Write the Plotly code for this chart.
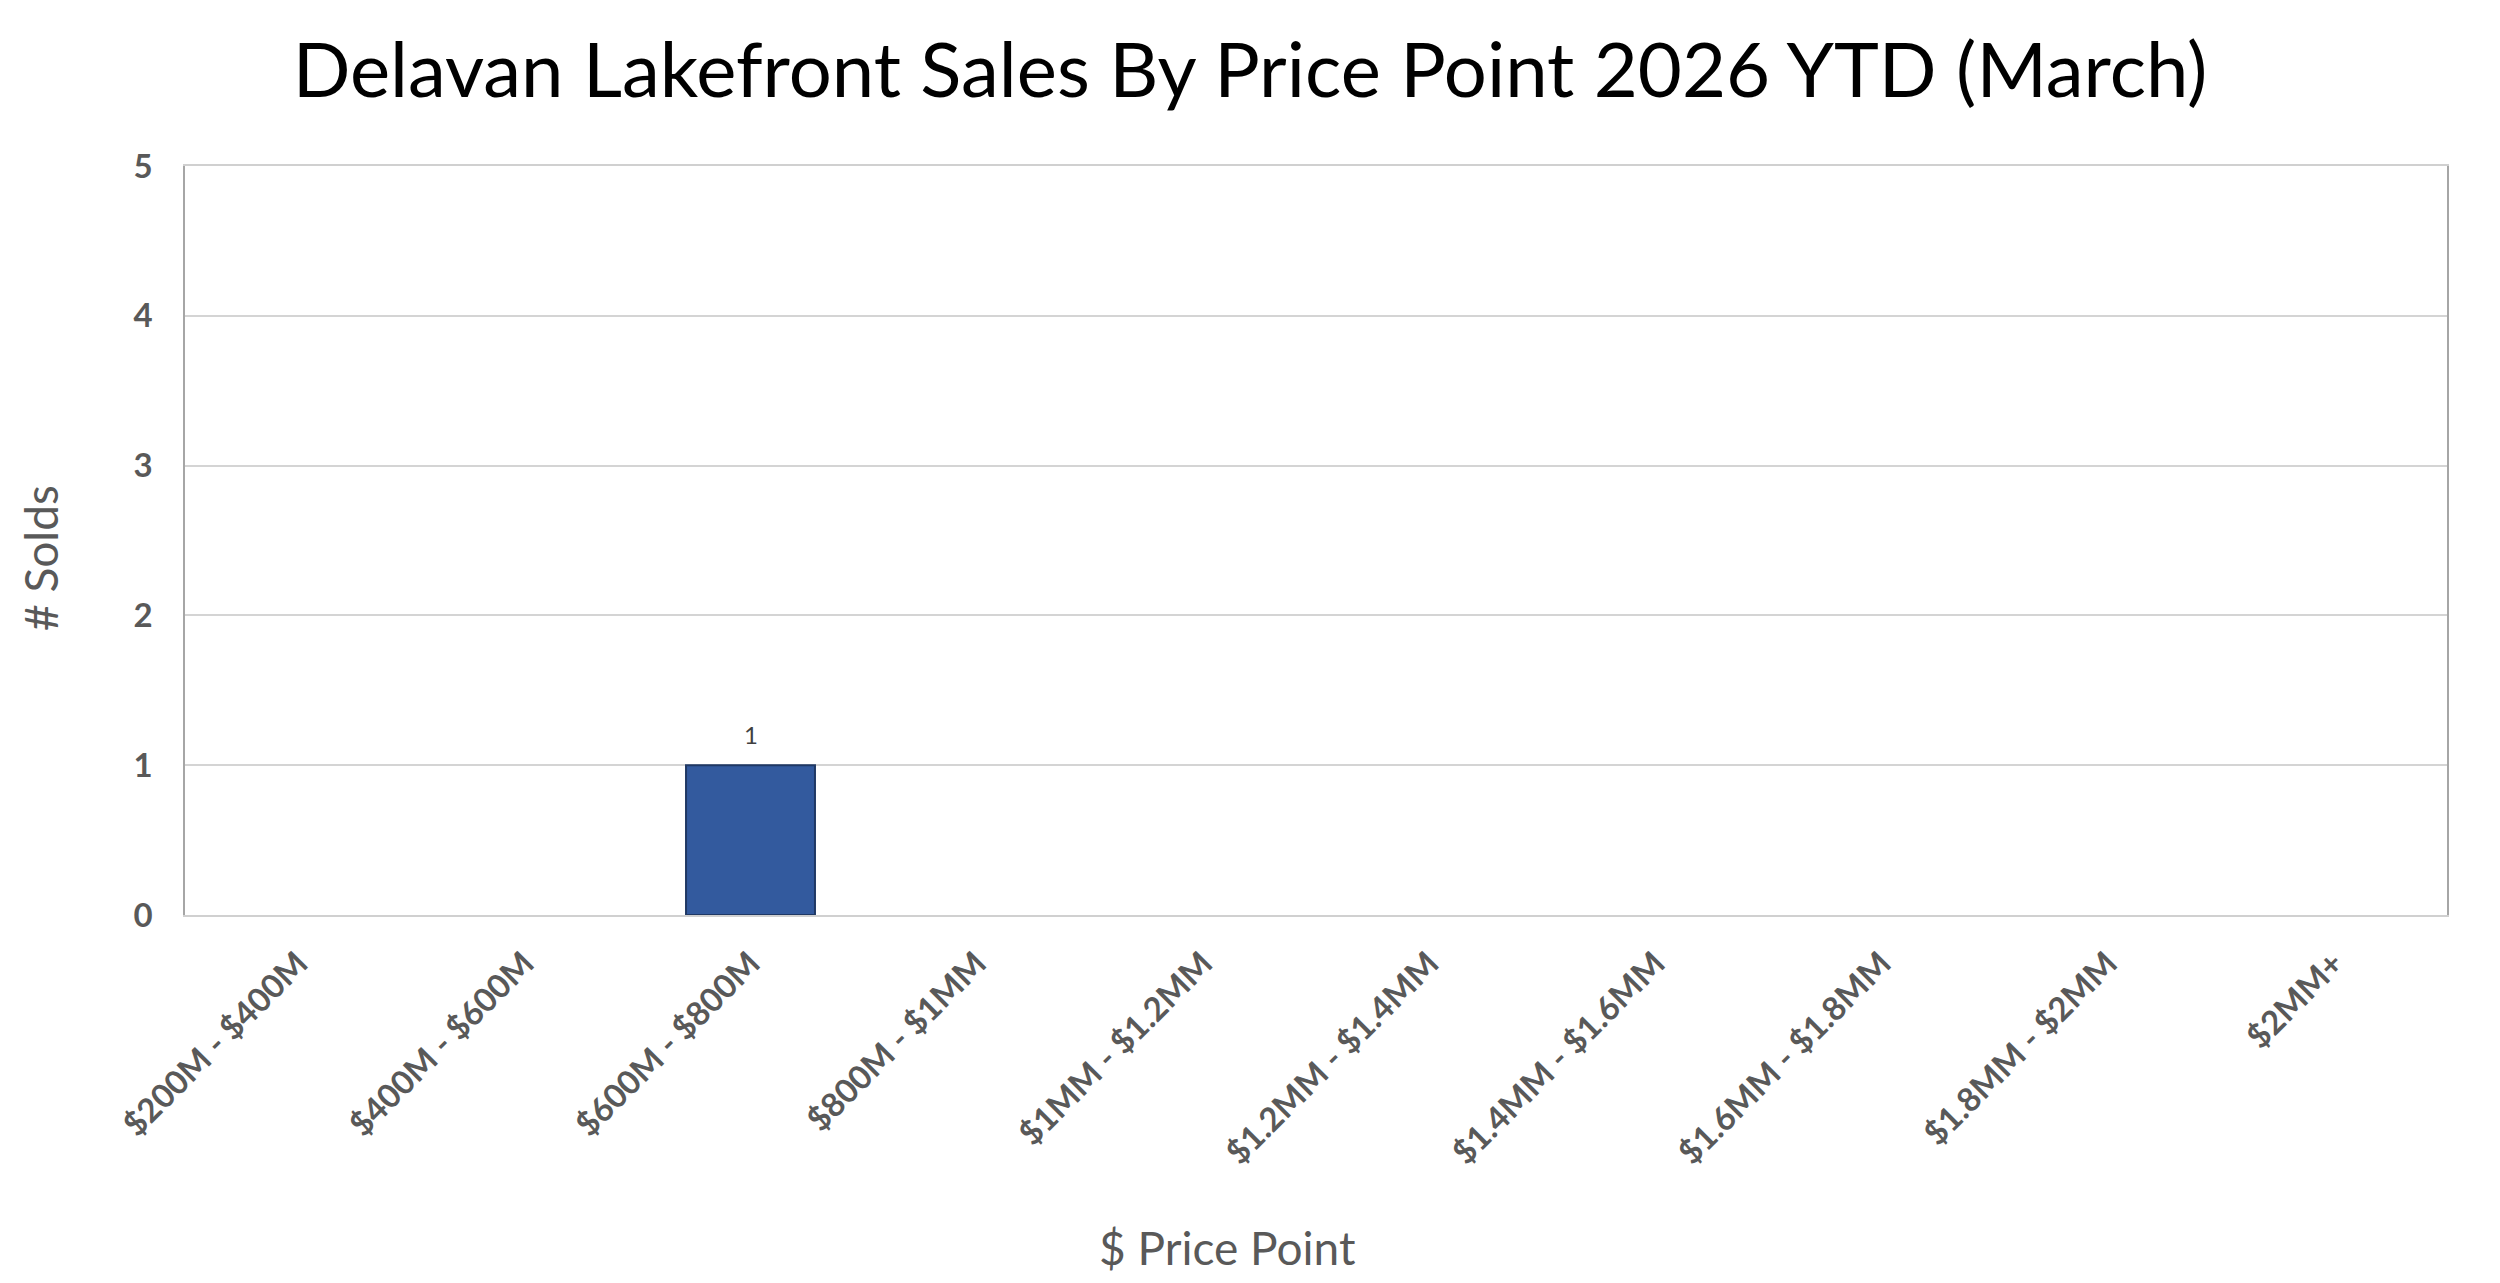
import plotly.graph_objects as go

categories = ["$200M - $400M", "$400M - $600M", "$600M - $800M", "$800M - $1MM",
              "$1MM - $1.2MM", "$1.2MM - $1.4MM", "$1.4MM - $1.6MM", "$1.6MM - $1.8MM",
              "$1.8MM - $2MM", "$2MM+"]
solds = [0, 0, 1, 0, 0, 0, 0, 0, 0, 0]

title_text = "Delavan Lakefront Sales By Price Point 2026 YTD (March)"
x_title = "$ Price Point"
y_title = "# Solds"

W, H = 2500, 1283
OFF = 8  # page body margin offset
L, R, T, B = 185 - OFF, 53 + OFF, 166 - OFF, 368 + OFF
pw, ph = W - L - R, H - T - B

fig = go.Figure()
fig.add_trace(go.Bar(
    x=categories, y=solds,
    marker=dict(color="#335A9E",
                line=dict(color="#1F3864", width=[2 if v > 0 else 0 for v in solds])),
    width=0.57,
))

annotations = [
    dict(x=c, y=v, text=str(v), xref="x", yref="y", showarrow=False,
         yanchor="middle", yshift=31,
         font=dict(family="Lato", size=24, color="#404040"))
    for c, v in zip(categories, solds) if v > 0
]
annotations += [
    dict(text=x_title, xref="paper", yref="paper",
         x=(1227 - OFF - L) / pw, y=(915 - 1247) / ph,
         xanchor="center", yanchor="middle", showarrow=False,
         font=dict(family="Lato", size=46, color="#595959")),
    dict(text=y_title, xref="paper", yref="paper",
         x=(40 - OFF - L) / pw, y=(915 - 558) / ph, textangle=-90,
         xanchor="center", yanchor="middle", showarrow=False,
         font=dict(family="Lato", size=46, color="#595959")),
]

fig.update_layout(
    width=W, height=H,
    margin=dict(l=L, r=R, t=T, b=B),
    paper_bgcolor="white", plot_bgcolor="white",
    showlegend=False,
    title=dict(text=title_text, x=(1250 - OFF) / W, xref="container", xanchor="center",
               y=1 - (70 - OFF) / H, yref="container", yanchor="middle",
               font=dict(family="Lato", size=76, color="#000000")),
    xaxis=dict(
        type="category", tickangle=-45,
        tickfont=dict(family="Lato", size=33, color="#595959", weight="bold"),
        showline=True, linecolor="#D0D0D0", linewidth=2, mirror=True,
        showgrid=False, ticks="", ticklabelstandoff=14, automargin=False,
    ),
    yaxis=dict(
        range=[0, 5], dtick=1,
        tickfont=dict(family="Lato", size=33, color="#595959", weight="bold"),
        showline=True, linecolor="#A6A6A6", linewidth=1.5, mirror=True,
        showgrid=True, gridcolor="#D4D4D4", gridwidth=1.5,
        zeroline=False, ticks="", ticklabelstandoff=24, automargin=False,
    ),
    annotations=annotations,
)

fig.write_html("out.html")
